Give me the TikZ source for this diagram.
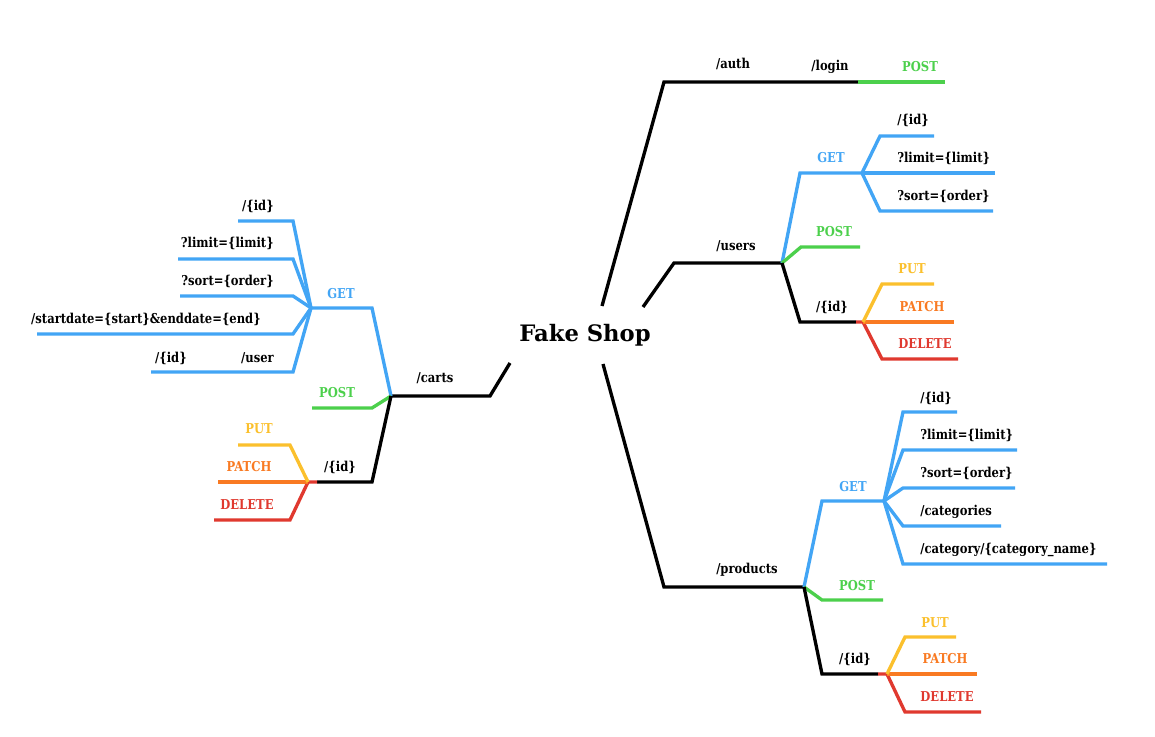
\documentclass[tikz,border=0pt]{standalone}
\usepackage{fontspec}
\setmainfont{DejaVu Serif}[FakeStretch=0.85]
\newfontfamily\titlefont{DejaVu Serif}
\usetikzlibrary{calc}
\definecolor{getblue}{HTML}{42A5F5}
\definecolor{postgreen}{HTML}{4CD04C}
\definecolor{putyellow}{HTML}{FBC02D}
\definecolor{patchorange}{HTML}{F97A22}
\definecolor{delred}{HTML}{E0392F}
\tikzset{
  trunk/.style={line width=2.5pt, black},
  getline/.style={line width=2.5pt, getblue},
  postline/.style={line width=2.5pt, postgreen},
  putline/.style={line width=2.5pt, putyellow},
  patchline/.style={line width=2.5pt, patchorange},
  delline/.style={line width=2.5pt, delred},
  lbl/.style={inner sep=0pt, font=\fontsize{10.2}{11}\selectfont\bfseries},
  getlbl/.style={lbl, text=getblue},
  postlbl/.style={lbl, text=postgreen},
  putlbl/.style={lbl, text=putyellow},
  patchlbl/.style={lbl, text=patchorange},
  dellbl/.style={lbl, text=delred}
}
\begin{document}
\begin{tikzpicture}[x=0.75pt, y=-0.75pt]
			%%%%% START %%%%%
			\useasboundingbox[fill=white] (0,0) rectangle (1155,737);
			
			\node[inner sep=0pt, font=\titlefont\fontsize{17}{18}\selectfont\bfseries] (shop) at (585,335) {Fake Shop};
			
			%%%%% /auth %%%%%
			\coordinate (authA) at (602,306);
			\coordinate (authB) at (664,82);
			\coordinate (loginJ) at (858,82);
			\coordinate (loginE) at (945,82);
			\draw[trunk] (authA) -- (authB) -- (loginJ);
			\draw[postline] (loginJ) -- (loginE);
			\node[lbl] (auth) at (733,64) {/auth};
			\node[lbl] (login) at (830,67) {/login};
			\node[postlbl] (loginpost) at (920,67) {POST};
			
			%%%%% /users %%%%%
			\coordinate (usersA) at (643,307);
			\coordinate (usersB) at (674,263);
			\coordinate (usersJ) at (782,263);
			\draw[trunk] (usersA) -- (usersB) -- (usersJ);
			\node[lbl] (users) at (736,246) {/users};
			
			\coordinate (usersgetB) at (800,173);
			\coordinate (usersgetJ) at (862,173);
			\draw[getline] (usersJ) -- (usersgetB) -- (usersgetJ);
			\node[getlbl] (usersget) at (831,158) {GET};
			\draw[getline] (usersgetJ) -- (880,136) -- (934,136);
			\draw[getline] (usersgetJ) -- (995,173);
			\draw[getline] (usersgetJ) -- (880,211) -- (993,211);
			\node[lbl, anchor=west] (usersgetid) at (897,120) {/\{id\}};
			\node[lbl, anchor=west] (userslimit) at (897,158) {?limit=\{limit\}};
			\node[lbl, anchor=west] (userssort) at (897,196) {?sort=\{order\}};
			
			\draw[postline] (usersJ) -- (801,247) -- (860,247);
			\node[postlbl] (userspost) at (834,232) {POST};
			
			\coordinate (usersidB) at (800,322);
			\coordinate (usersidE) at (856,322);
			\coordinate (usersidJ) at (863,322);
			\draw[trunk] (usersJ) -- (usersidB) -- (usersidE);
			\node[lbl] (usersid) at (832,307) {/\{id\}};
			\draw[delline] (usersidE) -- (usersidJ) -- (882,359) -- (958,359);
			\draw[patchline] (usersidJ) -- (954,322);
			\draw[putline] (usersidJ) -- (882,284) -- (934,284);
			\node[putlbl] (usersput) at (912,269) {PUT};
			\node[patchlbl] (userspatch) at (922,307) {PATCH};
			\node[dellbl] (usersdel) at (925,344) {DELETE};
			
			%%%%% /products %%%%%
			\coordinate (prodA) at (603,364);
			\coordinate (prodB) at (664,587);
			\coordinate (prodJ) at (804,587);
			\draw[trunk] (prodA) -- (prodB) -- (prodJ);
			\node[lbl] (products) at (747,570) {/products};
			
			\coordinate (prodgetB) at (822,501);
			\coordinate (prodgetJ) at (884,501);
			\draw[getline] (prodJ) -- (prodgetB) -- (prodgetJ);
			\node[getlbl] (prodget) at (853,487) {GET};
			\draw[getline] (prodgetJ) -- (903,412) -- (957,412);
			\draw[getline] (prodgetJ) -- (903,450) -- (1017,450);
			\draw[getline] (prodgetJ) -- (903,488) -- (1015,488);
			\draw[getline] (prodgetJ) -- (903,526) -- (1001,526);
			\draw[getline] (prodgetJ) -- (903,564) -- (1107,564);
			\node[lbl, anchor=west] (prodgetid) at (920,398) {/\{id\}};
			\node[lbl, anchor=west] (prodlimit) at (920,435) {?limit=\{limit\}};
			\node[lbl, anchor=west] (prodsort) at (920,473) {?sort=\{order\}};
			\node[lbl, anchor=west] (prodcats) at (920,512) {/categories};
			\node[lbl, anchor=west] (prodcat) at (920,550) {/category/\{category\_name\}};
			
			\draw[postline] (prodJ) -- (822,600) -- (883,600);
			\node[postlbl] (prodpost) at (857,586) {POST};
			
			\coordinate (prodidB) at (822,674);
			\coordinate (prodidE) at (878,674);
			\coordinate (prodidJ) at (887,674);
			\draw[trunk] (prodJ) -- (prodidB) -- (prodidE);
			\node[lbl] (prodid) at (855,659) {/\{id\}};
			\draw[delline] (prodidE) -- (prodidJ) -- (905,712) -- (981,712);
			\draw[patchline] (prodidJ) -- (977,674);
			\draw[putline] (prodidJ) -- (905,637) -- (956,637);
			\node[putlbl] (prodput) at (935,623) {PUT};
			\node[patchlbl] (prodpatch) at (945,659) {PATCH};
			\node[dellbl] (proddel) at (947,697) {DELETE};
			
			%%%%% /carts %%%%%
			\coordinate (cartsA) at (510,363);
			\coordinate (cartsB) at (490,396);
			\coordinate (cartsJ) at (391,396);
			\draw[trunk] (cartsA) -- (cartsB) -- (cartsJ);
			\node[lbl] (carts) at (435,378) {/carts};
			
			\coordinate (cartsgetB) at (372,308);
			\coordinate (cartsgetJ) at (311,308);
			\draw[getline] (cartsJ) -- (cartsgetB) -- (cartsgetJ);
			\node[getlbl] (cartsget) at (341,294) {GET};
			\draw[getline] (cartsgetJ) -- (293,221) -- (238,221);
			\draw[getline] (cartsgetJ) -- (293,259) -- (178,259);
			\draw[getline] (cartsgetJ) -- (293,296) -- (180,296);
			\draw[getline] (cartsgetJ) -- (293,334) -- (37,334);
			\draw[getline] (cartsgetJ) -- (293,372) -- (151,372);
			\node[lbl, anchor=east] (cartsgetid) at (274,206) {/\{id\}};
			\node[lbl, anchor=east] (cartslimit) at (274,243) {?limit=\{limit\}};
			\node[lbl, anchor=east] (cartssort) at (274,281) {?sort=\{order\}};
			\node[lbl, anchor=east] (cartsdate) at (261,319) {/startdate=\{start\}\&enddate=\{end\}};
			\node[lbl, anchor=east] (cartsuser) at (274,358) {/user};
			\node[lbl, anchor=east] (cartsuserid) at (187,358) {/\{id\}};
			
			\draw[postline] (cartsJ) -- (372,408) -- (312,408);
			\node[postlbl] (cartspost) at (337,393) {POST};
			
			\coordinate (cartsidB) at (372,482);
			\coordinate (cartsidE) at (317,482);
			\coordinate (cartsidJ) at (308,482);
			\draw[trunk] (cartsJ) -- (cartsidB) -- (cartsidE);
			\node[lbl] (cartsid) at (340,467) {/\{id\}};
			\draw[delline] (cartsidE) -- (cartsidJ) -- (290,520) -- (214,520);
			\draw[patchline] (cartsidJ) -- (218,482);
			\draw[putline] (cartsidJ) -- (290,445) -- (238,445);
			\node[putlbl] (cartsput) at (259,429) {PUT};
			\node[patchlbl] (cartspatch) at (249,467) {PATCH};
			\node[dellbl] (cartsdel) at (247,505) {DELETE};
			
			%%%%% END %%%%%
\end{tikzpicture}
\end{document}
